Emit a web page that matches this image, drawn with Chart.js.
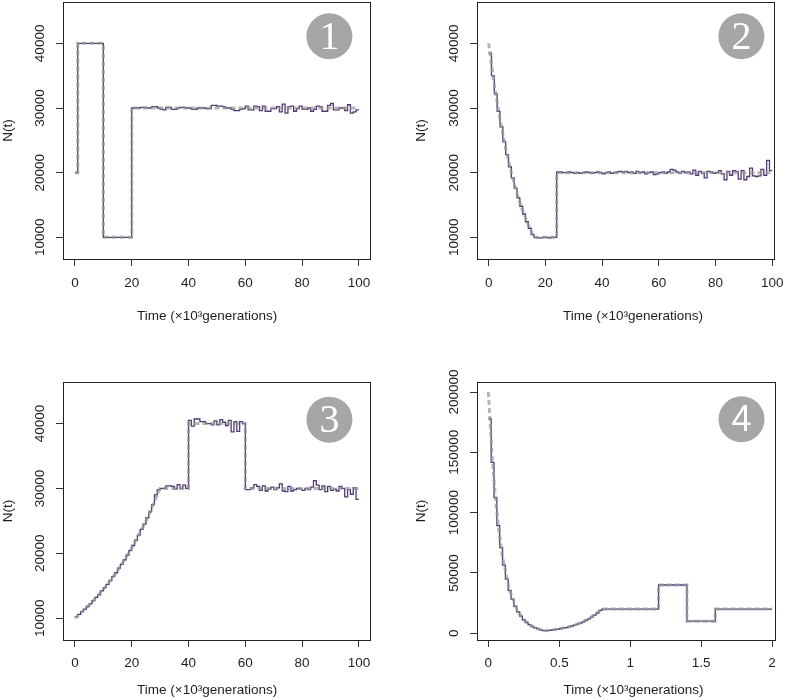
<!DOCTYPE html>
<html>
<head>
<meta charset="utf-8">
<script src="https://cdn.jsdelivr.net/npm/chart.js@4.4.0/dist/chart.umd.min.js"></script>
<style>
body { margin: 0; background: #fff; }
#wrap { position: relative; width: 786px; height: 699px; }
canvas { position: absolute; }
</style>
</head>
<body>
<div id="wrap">
<canvas id="p1" width="393" height="340" style="left:0;top:0"></canvas>
<canvas id="p2" width="393" height="340" style="left:393px;top:0"></canvas>
<canvas id="p3" width="393" height="359" style="left:0;top:340px"></canvas>
<canvas id="p4" width="393" height="359" style="left:393px;top:340px"></canvas>
</div>
<script>
// estimated N(t), one value per epoch (100 epochs per scenario)
var est1 = [20000,
  40000,40000,40000,40000,40000,40000,40000,40000,40000,
  10000,10000,10000,10000,10000,10000,10000,10000,10000,10000,
  30000,30000,30000,30100,30100,30000,30000,30200,30200,30000,
  29800,29700,30100,30100,29800,29800,30000,30100,30100,30000,
  30000,29800,29800,30000,30000,30000,29900,29900,30400,30400,
  30300,30300,30200,30000,30000,29800,29600,29600,29800,29900,
  30300,29700,29700,30300,30200,29600,30300,29500,29500,29900,
  29900,30200,29400,30600,29200,30200,30300,29500,29900,30300,
  29800,29800,30000,29500,29800,30300,30200,29500,29500,30400,
  30700,29700,29700,30000,30000,29600,30500,29200,29400,29700];
var est2 = [38500,35000,32200,29500,27100,24800,22800,20900,19200,17600,16100,14800,13600,12400,11400,10400,
  10000,9900,9900,10000,10000,9900,10000,10000,
  20100,20100,20000,20000,20100,20000,
  19900,20000,19900,20000,20100,20000,19900,20000,20100,20000,
  19800,20000,20100,19900,20000,20100,20200,20100,20200,20000,
  20100,19900,20200,20000,20100,19800,20000,20100,19700,19800,
  20000,20100,19900,20100,20500,20400,20100,19900,20200,20000,
  20100,19800,20400,19600,20200,19900,19200,20200,20100,19900,
  20000,20300,19800,18900,20200,19600,20300,20200,19000,20300,
  18900,19400,20700,19500,19400,19500,20500,19600,21900,20300];
var est3 = [10200,10600,11000,11400,11800,12200,12700,13200,13600,14200,
  14700,15200,15800,16400,17000,17700,18300,19000,19700,20400,
  21200,22000,22800,23700,24500,25500,26400,27500,29000,29800,
  30000,30000,30400,30400,30300,29900,30600,30000,30500,30000,
  40500,39600,40700,40700,40300,40300,40000,40000,39800,40400,
  39800,40600,40200,39700,40500,38700,40300,38800,40300,40000,
  29800,29800,30100,30600,30300,29700,30400,29600,29900,30200,
  29800,30100,30700,29600,29500,30300,29600,29800,30000,29900,
  29700,30000,29800,30200,31200,30500,29800,30400,29500,30300,
  29700,29900,29600,30300,30000,28700,29800,29100,30100,28300];
var est4 = [178000,141600,112500,89300,71000,56400,44800,35600,28300,22400,
  17800,14200,11200,8900,7100,5600,4500,3600,2800,2200,
  2100,2400,2700,3000,3400,3800,4200,4700,5300,6000,
  6700,7500,8400,9500,10600,11900,13400,15000,16800,18900,
  20000,20000,20000,20000,20000,20000,20000,20000,20000,20000,
  20000,20000,20000,20000,20000,20000,20000,20000,20000,20000,
  40000,40000,40000,40000,40000,40000,40000,40000,40000,40000,
  10000,10000,10000,10000,10000,10000,10000,10000,10000,10000,
  20000,20000,20000,20000,20000,20000,20000,20000,20000,20000,
  20000,20000,20000,20000,20000,20000,20000,20000,20000,20000];

// true scenarios (time in 10^3 generations, N)
var trueT1 = [0, 1, 1, 10, 10, 20, 20, 100];
var trueN1 = [20000, 20000, 40000, 40000, 10000, 10000, 30000, 30000];
var trueT2 = [0, 2, 4, 6, 8, 10, 12, 14, 16, 24, 24, 100];
var trueN2 = [40000, 33600, 28300, 23800, 20000, 16800, 14100, 11900, 10000, 10000, 20000, 20000];
var trueT3 = [0, 5, 10, 15, 20, 25, 30, 40, 40, 60, 60, 100];
var trueN3 = [10000, 12000, 14400, 17300, 20800, 24900, 30000, 30000, 40000, 40000, 30000, 30000];
var trueT4 = [0, 0.025, 0.05, 0.075, 0.1, 0.15, 0.2, 0.25, 0.3, 0.35, 0.4, 0.5, 0.6, 0.7, 0.8, 1.2, 1.2, 1.4, 1.4, 1.6, 1.6, 2];
var trueN4 = [200000, 150000, 112000, 84000, 63000, 35500, 20000, 11200, 6300, 3600, 2000, 3600, 6300, 11200, 20000, 20000, 40000, 40000, 10000, 10000, 20000, 20000];

var xTicks100 = [0, 20, 40, 60, 80, 100];
var xTicks2 = [0, 0.5, 1, 1.5, 2];
var yTicks40k = [10000, 20000, 30000, 40000];
var yTicks200k = [0, 50000, 100000, 150000, 200000];

Chart.defaults.font.family = "'Liberation Sans', Arial, sans-serif";
Chart.defaults.font.size = 13.5;
Chart.defaults.color = "#1e1e1e";

var boxPlugin = {
  id: 'box',
  afterDraw: function(chart, args, opts) {
    var a = chart.chartArea, ctx = chart.ctx;
    ctx.save();
    ctx.strokeStyle = '#222';
    ctx.lineWidth = 1;
    ctx.strokeRect(Math.round(a.left) + 0.5, Math.round(a.top) + 0.5,
      Math.round(a.right - a.left), Math.round(a.bottom - a.top));
    var cx = chart.scales.x.getPixelForValue(opts.cx);
    var cy = chart.scales.y.getPixelForValue(opts.cy);
    ctx.fillStyle = '#a6a6a6';
    ctx.beginPath();
    ctx.arc(cx, cy, 23, 0, Math.PI * 2);
    ctx.fill();
    ctx.fillStyle = '#fff';
    ctx.font = opts.font;
    ctx.textAlign = 'center';
    ctx.textBaseline = 'middle';
    ctx.fillText(opts.label, cx, cy + 2);
    ctx.restore();
  }
};

function noPad(s) {
  s.paddingLeft = 0; s.paddingRight = 0; s.paddingTop = 0; s.paddingBottom = 0;
}

function makePanel(id, p) {
  var est = p.est.map(function(v, i) { return {x: i * p.step, y: v}; });
  est.push({x: p.est.length * p.step, y: p.est[p.est.length - 1]});
  var tru = p.trueT.map(function(t, i) { return {x: t, y: p.trueN[i]}; });

  new Chart(id, {
    type: 'line',
    data: {
      datasets: [
        {data: est, borderColor: '#4f3a73', borderWidth: 1.3, stepped: 'before', pointRadius: 0, order: 1},
        {data: tru, borderColor: 'rgba(150,150,150,0.7)', borderWidth: 3, borderDash: [5, 3], pointRadius: 0, order: 0}
      ]
    },
    options: {
      responsive: false,
      animation: false,
      events: [],
      layout: {padding: p.pad},
      plugins: {
        legend: {display: false},
        tooltip: {enabled: false},
        box: {cx: p.badge[0], cy: p.badge[1], label: p.badge[2], font: p.badge[3]}
      },
      scales: {
        x: {
          type: 'linear', min: p.xmin, max: p.xmax, bounds: 'data',
          afterBuildTicks: function(s) { s.ticks = p.xTicks.map(function(v) { return {value: v}; }); },
          afterFit: function(s) { s.height = p.xh; noPad(s); },
          ticks: {autoSkip: false, maxRotation: 0, padding: p.xtp, color: '#1e1e1e',
            callback: function(v) { return String(v); }},
          grid: {drawOnChartArea: false, drawTicks: true, tickLength: 7, color: '#333'},
          border: {display: false},
          title: {display: true, text: p.xTitle, color: '#1e1e1e', padding: {top: 0, bottom: p.xtb}}
        },
        y: {
          type: 'linear', min: p.ymin, max: p.ymax, bounds: 'data',
          afterBuildTicks: function(s) { s.ticks = p.yTicks.map(function(v) { return {value: v}; }); },
          afterFit: function(s) { s.width = p.yw; noPad(s); },
          ticks: {autoSkip: false, minRotation: 90, maxRotation: 90, crossAlign: 'center', padding: p.ytp,
            color: '#1e1e1e', callback: function(v) { return String(v); }},
          grid: {drawOnChartArea: false, drawTicks: true, tickLength: 7, color: '#333'},
          border: {display: false},
          title: {display: true, text: 'N(t)', color: '#1e1e1e', padding: {top: p.ytt, bottom: 0}}
        }
      }
    },
    plugins: [boxPlugin]
  });
}

var serif = "40px 'Liberation Serif', 'DejaVu Serif', serif";
var sans = "36px 'Liberation Sans', Arial, sans-serif";

makePanel('p1', {est: est1, step: 1, trueT: trueT1, trueN: trueN1,
  xmin: -4.2, xmax: 103.9, ymin: 6640, ymax: 46400, xTicks: xTicks100, yTicks: yTicks40k,
  pad: {left: 0, top: 2, right: 23, bottom: 0}, yw: 63, xh: 81, xtp: 9, xtb: 16, ytp: -3, ytt: 0,
  xTitle: 'Time (×10³generations)     ', badge: [89.6, 41100, '1', serif]});
makePanel('p2', {est: est2, step: 1, trueT: trueT2, trueN: trueN2,
  xmin: -4.1, xmax: 100.6, ymin: 6640, ymax: 46400, xTicks: xTicks100, yTicks: yTicks40k,
  pad: {left: 0, top: 2, right: 12, bottom: 0}, yw: 84, xh: 81, xtp: 9, xtb: 16, ytp: -3, ytt: 20,
  xTitle: '    Time (×10³generations)', badge: [89.1, 41100, '2', serif]});
makePanel('p3', {est: est3, step: 1, trueT: trueT3, trueN: trueN3,
  xmin: -4.2, xmax: 103.9, ymin: 6640, ymax: 46400, xTicks: xTicks100, yTicks: yTicks40k,
  pad: {left: 0, top: 42, right: 23, bottom: 0}, yw: 63, xh: 59, xtp: 8, xtb: 1, ytp: -3, ytt: 0,
  xTitle: 'Time (×10³generations)     ', badge: [89.6, 40600, '3', serif]});
makePanel('p4', {est: est4, step: 0.02, trueT: trueT4, trueN: trueN4,
  xmin: -0.08, xmax: 2.021, ymin: -5600, ymax: 208300, xTicks: xTicks2, yTicks: yTicks200k,
  pad: {left: 0, top: 42, right: 11, bottom: 0}, yw: 84, xh: 59, xtp: 8, xtb: 1, ytp: -7, ytt: 20,
  xTitle: '    Time (×10³generations)', badge: [1.785, 177400, '4', sans]});
</script>
</body>
</html>
